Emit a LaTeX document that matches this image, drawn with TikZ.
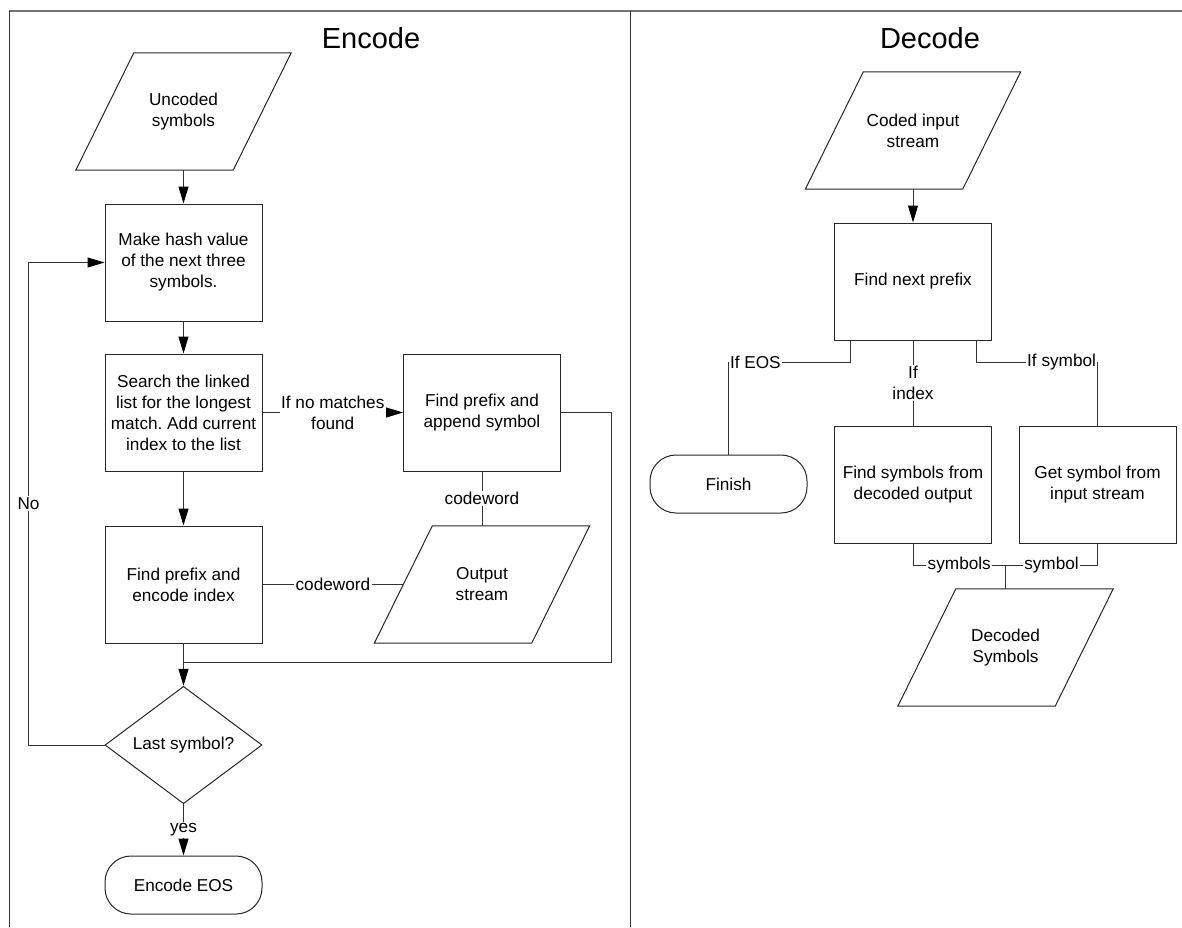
\documentclass[tikz,border=0pt]{standalone}
\usepackage{fontspec}
\setmainfont{Liberation Sans}
\usetikzlibrary{arrows.meta,shapes.geometric,calc}
\frenchspacing

% outline of an input/output box: the node itself is a plain rectangle,
% the slanted frame is drawn around it
\newcommand\slantframe[1]{%
  \draw[ink] ($(#1.south west)+(-29,0)$) -- ($(#1.south east)+(-29,0)$)
    -- ($(#1.north east)+(29,0)$) -- ($(#1.north west)+(29,0)$) -- cycle;}

\begin{document}
\begin{tikzpicture}[x=1pt,y=-1pt,
  every node/.style={font=\fontsize{17.2}{21}\selectfont},
  ink/.style={draw=black!85, line width=1pt},
  proc/.style={ink, rectangle, minimum width=157pt, minimum height=117pt, inner sep=0pt, align=center},
  iobox/.style={rectangle, minimum width=157pt, minimum height=117pt, inner sep=0pt, align=center},
  term/.style={ink, rectangle, rounded corners=26pt, minimum width=157pt, minimum height=58pt, inner sep=0pt, align=center},
  decision/.style={ink, diamond, minimum width=157pt, minimum height=116pt, inner sep=0pt, align=center},
  conn/.style={draw=black!80, line width=1pt},
  flow/.style={conn, -{Triangle[length=17pt,width=10pt,fill=black,color=black]}},
  lbl/.style={fill=white, inner sep=1.5pt, align=center},
  heading/.style={font=\fontsize{29}{34}\selectfont, anchor=base},
  frameline/.style={line width=1pt, draw=black!80}
]
\fill[white] (0,0) rectangle (1182,927);
\useasboundingbox (0,0) rectangle (1182,927);

% panel frame
\draw[frameline, draw=black!55, line width=1.6pt] (9,11) -- (1182,11);
\draw[frameline] (9,11) -- (9,927);
\draw[frameline] (630,11) -- (630,927);

% ---------------- Encode ----------------
\node[heading] (enchead) at (371,48) {Encode};
\node[iobox] (unc) at (183.5,111.5) {Uncoded\\symbols};
\node[proc] (hash) at (183.5,262.5) {Make hash value\\of the next three\\symbols.};
\node[proc] (search) at (183.5,412.5) {Search the linked\\list for the longest\\match. Add current\\index to the list};
\node[proc] (append) at (482,412.5) {Find prefix and\\append symbol};
\node[proc] (encidx) at (183.5,584.5) {Find prefix and\\encode index};
\node[iobox] (out) at (482,584.5) {Output\\stream};
\node[decision] (last) at (183.5,745) {Last symbol?};
\node[term] (eos) at (183.5,885) {Encode EOS};
\coordinate (merge) at (183.5,662);
\slantframe{unc}
\slantframe{out}

\draw[flow] (unc.south) -- (hash.north);
\draw[flow] (hash.south) -- (search.north);
\draw[flow] (search.east) -- node[lbl]{If no matches\\found} (append.west);
\draw[flow] (search.south) -- (encidx.north);
\draw[conn] (encidx.east) -- node[lbl]{codeword} (out.west);
\draw[conn] (append.south) -- node[lbl]{codeword} (out.north);
\draw[conn] (append.east) -- ++(50,0) |- (merge);
\draw[flow] (encidx.south) -- (last.north);
\draw[flow] (last.west) -- ++(-76,0) |- node[lbl,pos=0.25]{No} (hash.west);
\draw[flow] (last.south) -- node[lbl]{yes} (eos.north);

% ---------------- Decode ----------------
\node[heading] (dechead) at (930,48) {Decode};
\node[iobox] (cin) at (913,130.5) {Coded input\\stream};
\node[proc] (prefix) at (913,281.5) {Find next prefix};
\node[term] (finish) at (728.5,484) {Finish};
\node[proc] (findsym) at (913,484.5) {Find symbols from\\decoded output};
\node[proc] (getsym) at (1097.5,484.5) {Get symbol from\\input stream};
\node[iobox] (decsym) at (1005.5,647.5) {Decoded\\Symbols};
\slantframe{cin}
\slantframe{decsym}

\draw[flow] (cin.south) -- (prefix.north);
\draw[conn] ($(prefix.south west)+(16,0)$) -- ++(0,22)
  -| node[lbl,anchor=west,pos=0.5,inner sep=1pt]{If EOS} (finish.north);
\draw[conn] (prefix.south) -- node[lbl]{If\\index} (findsym.north);
\draw[conn] ($(prefix.south east)+(-16,0)$) -- ++(0,22)
  -| node[lbl,anchor=east,pos=0.5,inner sep=1pt]{If symbol} (getsym.north);
\draw[conn] (findsym.south) -- ++(0,22) -| node[lbl,pos=0.25]{symbols} (decsym.north);
\draw[conn] (getsym.south) -- ++(0,22) -| node[lbl,pos=0.25]{symbol} (decsym.north);
\end{tikzpicture}
\end{document}
